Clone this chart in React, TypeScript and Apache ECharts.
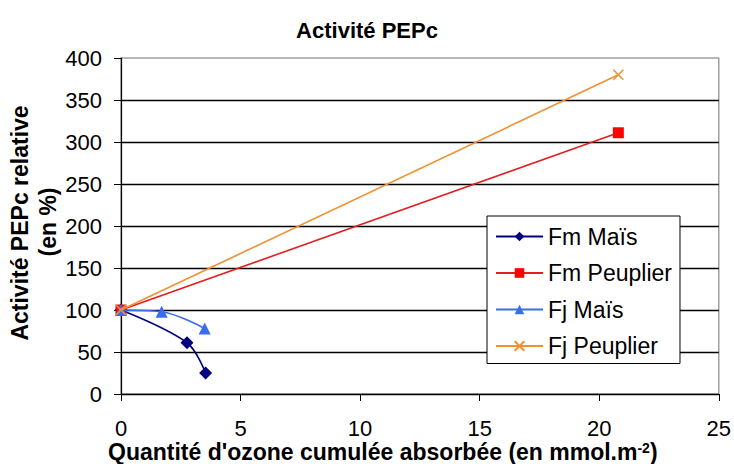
import React, { useEffect, useRef } from "react";
import * as echarts from "echarts";

const seriesNames = ["Fm Maïs", "Fm Peuplier", "Fj Maïs", "Fj Peuplier"];
const fmMaisX = [0, 2.76, 3.54];
const fmMaisY = [100, 61, 25];
const fmPeuplierX = [0, 20.8];
const fmPeuplierY = [100, 311];
const fjMaisX = [0, 1.7, 3.5];
const fjMaisY = [100, 98, 78];
const fjPeuplierX = [0, 20.8];
const fjPeuplierY = [100, 380];
const xTicks = [0, 5, 10, 15, 20, 25];
const yTicks = [0, 50, 100, 150, 200, 250, 300, 350, 400];

const FONT = "Liberation Sans, Arial, sans-serif";

function pairs(xs: number[], ys: number[]) {
  return xs.map((x, i) => [x, ys[i]]);
}

export default function App() {
  const ref = useRef<HTMLDivElement>(null);
  useEffect(() => {
    if (!ref.current) return;
    const chart = echarts.init(ref.current, null, { renderer: "svg" });
    const gridColors = yTicks.map((v, i) => (i === yTicks.length - 1 ? "rgba(0,0,0,0)" : "#000"));
    chart.setOption({
      animation: false,
      backgroundColor: "#fff",
      textStyle: { fontFamily: FONT },
      title: {
        text: "Activité PEPc",
        left: "center",
        top: 14,
        textStyle: { fontFamily: FONT, fontSize: 22, fontWeight: "bold", color: "#000" },
      },
      grid: {
        left: 121,
        right: 12,
        top: 58,
        bottom: 70,
        show: true,
        borderColor: "#a0a0a0",
        borderWidth: 1.5,
        backgroundColor: "#fff",
      },
      xAxis: {
        type: "value",
        min: xTicks[0],
        max: xTicks[xTicks.length - 1],
        interval: 5,
        axisLine: { show: true, onZero: false, lineStyle: { color: "#000", width: 1.2 } },
        axisTick: { show: true, length: 7, lineStyle: { color: "#000" } },
        axisLabel: { color: "#000", fontSize: 22, fontFamily: FONT, margin: 23 },
        splitLine: { show: false },
      },
      yAxis: {
        type: "value",
        min: yTicks[0],
        max: yTicks[yTicks.length - 1],
        interval: 50,
        axisLine: { show: true, onZero: false, lineStyle: { color: "#000", width: 1.2 } },
        axisTick: { show: true, length: 7, lineStyle: { color: "#000" } },
        axisLabel: { color: "#000", fontSize: 22, fontFamily: FONT, margin: 19 },
        splitLine: { show: true, lineStyle: { color: gridColors, width: 1.3 } },
      },
      legend: {
        orient: "vertical",
        left: 487,
        top: 216,
        padding: [9, 8, 6, 8],
        itemGap: 13.5,
        itemWidth: 47,
        itemHeight: 12,
        backgroundColor: "#fff",
        borderColor: "#000",
        borderWidth: 1,
        borderRadius: 0,
        textStyle: { fontFamily: FONT, fontSize: 23, color: "#000" },
        data: seriesNames,
      },
      graphic: [
        {
          type: "text",
          x: 20,
          y: 223,
          rotation: Math.PI / 2,
          style: {
            text: "Activité PEPc relative",
            font: `bold 23px ${FONT}`,
            fill: "#000",
            align: "center",
            verticalAlign: "middle",
          },
        },
        {
          type: "text",
          x: 48,
          y: 222,
          rotation: Math.PI / 2,
          style: {
            text: "(en %)",
            font: `bold 23px ${FONT}`,
            fill: "#000",
            align: "center",
            verticalAlign: "middle",
          },
        },
        {
          type: "text",
          x: 108,
          y: 452,
          style: {
            text: "Quantité d'ozone cumulée absorbée (en mmol.m{sup|-2})",
            font: `bold 23px ${FONT}`,
            fill: "#000",
            align: "left",
            verticalAlign: "middle",
            rich: {
              sup: { fontFamily: FONT, fontSize: 14, fontWeight: "bold", fill: "#000", verticalAlign: "top" },
            },
          },
        },
      ],
      series: [
        {
          name: seriesNames[0],
          type: "line",
          smooth: 0.35,
          data: pairs(fmMaisX, fmMaisY),
          symbol: "diamond",
          symbolSize: 13,
          lineStyle: { color: "#000080", width: 1.6 },
          itemStyle: { color: "#000080" },
          z: 2,
        },
        {
          name: seriesNames[1],
          type: "line",
          data: pairs(fmPeuplierX, fmPeuplierY),
          symbol: "rect",
          symbolSize: 11,
          lineStyle: { color: "#e02020", width: 1.6 },
          itemStyle: { color: "#ff0000" },
          z: 3,
        },
        {
          name: seriesNames[2],
          type: "line",
          smooth: 0.35,
          data: pairs(fjMaisX, fjMaisY),
          symbol: "triangle",
          symbolSize: 12,
          lineStyle: { color: "#3a6cf0", width: 1.6 },
          itemStyle: { color: "#3a6cf0" },
          z: 4,
        },
        {
          name: seriesNames[3],
          type: "line",
          data: pairs(fjPeuplierX, fjPeuplierY),
          symbol: "path://M0,0L10,10M10,0L0,10",
          symbolSize: 10,
          lineStyle: { color: "#f09030", width: 1.6 },
          itemStyle: { color: "rgba(0,0,0,0)", borderColor: "#f09030", borderWidth: 1.6 },
          z: 5,
        },
      ],
    });
    return () => chart.dispose();
  }, []);
  return (
    <div
      ref={ref}
      style={{ position: "absolute", left: 0, top: 0, width: 734, height: 464 }}
    />
  );
}
